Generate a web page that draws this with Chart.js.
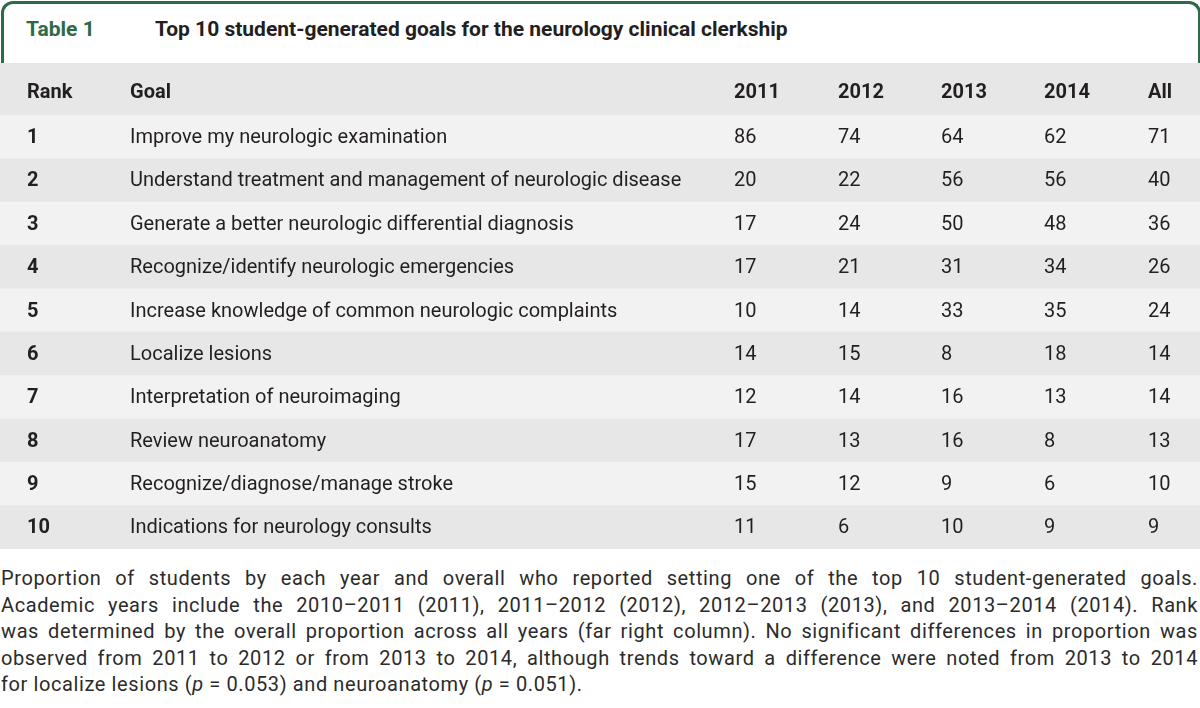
<!DOCTYPE html>
<html>
<head>
<meta charset="utf-8">
<script src="https://cdn.jsdelivr.net/npm/chart.js@4"></script>
<style>
  body { margin: 0; width: 1200px; height: 708px; background: #fff; font-family: Roboto, "Liberation Sans", sans-serif; color: #231f20; position: relative; overflow: hidden; }
  #tab { position: absolute; left: 1px; top: 1px; width: 1194px; height: 62px; border: 3px solid #2d6a47; border-bottom: none; border-radius: 12px 12px 0 0; }
  #tabLabel { position: absolute; left: 26px; top: 17px; font-weight: bold; font-size: 21px; color: #2d6a47; }
  #tabTitle { position: absolute; left: 155px; top: 17px; font-weight: bold; font-size: 21px; }
  #wrap { position: absolute; left: 0; top: 63px; width: 1200px; height: 486px; padding-top: 9px; box-sizing: border-box; background: #e6e7e6; }
  #caption { position: absolute; left: 1px; top: 565px; width: 1197px; font-family: Roboto, sans-serif; font-size: 20px; letter-spacing: 0.6px; line-height: 26.6px; color: #2b2b2b; }
  #caption div { text-align: justify; text-align-last: justify; white-space: nowrap; }
  #caption div.last { text-align-last: left; }
</style>
</head>
<body>
<div id="tab"></div>
<div id="tabLabel">Table 1</div>
<div id="tabTitle">Top 10 student-generated goals for the neurology clinical clerkship</div>
<div id="wrap"><canvas id="myChart" width="1200" height="477"></canvas></div>
<div id="caption">
  <div>Proportion of students by each year and overall who reported setting one of the top 10 student-generated goals.</div>
  <div>Academic years include the 2010–2011 (2011), 2011–2012 (2012), 2012–2013 (2013), and 2013–2014 (2014). Rank</div>
  <div>was determined by the overall proportion across all years (far right column). No significant differences in proportion was</div>
  <div>observed from 2011 to 2012 or from 2013 to 2014, although trends toward a difference were noted from 2013 to 2014</div>
  <div class="last">for localize lesions (<i>p</i> = 0.053) and neuroanatomy (<i>p</i> = 0.051).</div>
</div>
<script>
const columns = ["Rank", "Goal", "2011", "2012", "2013", "2014", "All"];
const ranks = ["1", "2", "3", "4", "5", "6", "7", "8", "9", "10"];
const goals = [
  "Improve my neurologic examination",
  "Understand treatment and management of neurologic disease",
  "Generate a better neurologic differential diagnosis",
  "Recognize/identify neurologic emergencies",
  "Increase knowledge of common neurologic complaints",
  "Localize lesions",
  "Interpretation of neuroimaging",
  "Review neuroanatomy",
  "Recognize/diagnose/manage stroke",
  "Indications for neurology consults"
];
const y2011 = [86, 20, 17, 17, 10, 14, 12, 17, 15, 11];
const y2012 = [74, 22, 24, 21, 14, 15, 14, 13, 12, 6];
const y2013 = [64, 56, 50, 31, 33, 8, 16, 16, 9, 10];
const y2014 = [62, 56, 48, 34, 35, 18, 13, 8, 6, 9];
const yAll = [71, 40, 36, 26, 24, 14, 14, 13, 10, 9];

window.onload = function() {
  // left edge of each column, in x-scale units (= pixels here)
  const colX = [27, 130, 734, 838, 941, 1044, 1148];
  const rowLabels = ["header"].concat(ranks);
  const valueCols = [y2011, y2012, y2013, y2014, yAll];

  const tableText = {
    id: "tableText",
    afterDatasetsDraw(chart) {
      const ctx = chart.ctx;
      const x = chart.scales.x;
      const y = chart.scales.y;
      ctx.save();
      ctx.textBaseline = "middle";
      ctx.fillStyle = "#231f20";
      ctx.font = "bold 20px Roboto";
      columns.forEach((c, i) => ctx.fillText(c, x.getPixelForValue(colX[i]), y.getPixelForValue(0) - 1));
      ranks.forEach((r, i) => {
        const py = y.getPixelForValue(i + 1) + 1;
        ctx.font = "bold 20px Roboto";
        ctx.fillText(r, x.getPixelForValue(colX[0]), py);
        ctx.font = "20px Roboto";
        ctx.fillText(goals[i], x.getPixelForValue(colX[1]), py);
        valueCols.forEach((col, j) => ctx.fillText(String(col[i]), x.getPixelForValue(colX[j + 2]), py));
      });
      ctx.restore();
    }
  };

  const ctx = document.getElementById("myChart").getContext("2d");
  new Chart(ctx, {
    type: "bar",
    data: {
      labels: rowLabels,
      datasets: [{
        data: rowLabels.map(() => [0, 1200]),
        backgroundColor: rowLabels.map((r, i) => (i === 0 || i % 2 === 0) ? "#e6e7e6" : "#f2f2f2"),
        borderWidth: 0,
        barPercentage: 1,
        categoryPercentage: 1
      }]
    },
    options: {
      indexAxis: "y",
      responsive: false,
      animation: false,
      devicePixelRatio: 1,
      layout: { padding: 0 },
      plugins: { legend: { display: false }, tooltip: { enabled: false }, title: { display: false } },
      scales: {
        x: { type: "linear", min: 0, max: 1200, display: false },
        y: { type: "category", display: false, offset: true }
      }
    },
    plugins: [tableText]
  });
};
</script>
</body>
</html>
